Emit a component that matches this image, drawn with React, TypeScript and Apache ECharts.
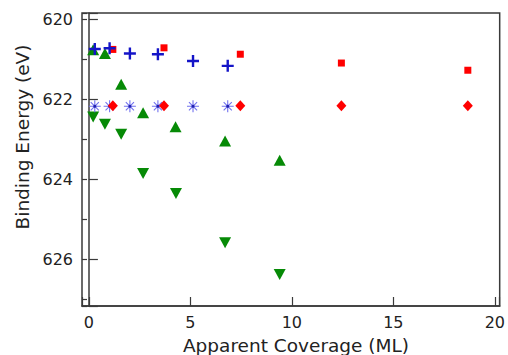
import React, { useEffect, useRef } from "react";
import * as echarts from "echarts";

// Apparent coverage (ML) and binding energy (eV) for each peak family
const plusX = [0.29, 1.02, 2.02, 3.4, 5.13, 6.84];
const plusY = [620.74, 620.72, 620.85, 620.87, 621.04, 621.16];

const starX = [0.29, 1.02, 2.02, 3.4, 5.13, 6.84];
const starY = [622.17, 622.17, 622.17, 622.17, 622.17, 622.17];

const squareX = [1.18, 3.7, 7.46, 12.44, 18.67];
const squareY = [620.75, 620.71, 620.87, 621.09, 621.27];

const diamondX = [1.18, 3.7, 7.46, 12.44, 18.67];
const diamondY = [622.16, 622.16, 622.16, 622.16, 622.16];

const upX = [0.21, 0.79, 1.59, 2.67, 4.27, 6.71, 9.4];
const upY = [620.76, 620.85, 621.62, 622.33, 622.68, 623.04, 623.52];

const downX = [0.21, 0.79, 1.59, 2.67, 4.29, 6.71, 9.4];
const downY = [622.44, 622.62, 622.87, 623.85, 624.35, 625.58, 626.37];

const xTitle = "Apparent Coverage (ML)";
const yTitle = "Binding Energy (eV)";

const pairs = (xs: number[], ys: number[]) => xs.map((x, i) => [x, ys[i]]);

const FONT = "DejaVu Sans";
const AXIS = "#3a3a3a";
const GREEN = "#068a06";
const RED = "#ff0000";
const BLUE = "#1414c8";

const PLUS = "path://M4,0h2v4h4v2h-4v4h-2v-4h-4v-2h4z";
const STAR = "path://M5,0L5,10M0,5L10,5M1.6,1.6L8.4,8.4M8.4,1.6L1.6,8.4";

const isMultiple = (v: number, step: number) => {
  const r = Math.round(v);
  return Math.abs(v - r) < 1e-6 && r % step === 0;
};

export default function App() {
  const ref = useRef<HTMLDivElement>(null);

  useEffect(() => {
    if (!ref.current) return;
    const chart = echarts.init(ref.current, null, { renderer: "svg" });
    const yRange = { min: 619.84, max: 627.16 };

    chart.setOption({
      animation: false,
      backgroundColor: "#fff",
      grid: {
        left: 82,
        top: 13,
        right: 2,
        bottom: 49,
        show: true,
        borderColor: AXIS,
        borderWidth: 1.5,
        backgroundColor: "transparent",
      },
      xAxis: {
        type: "value",
        min: -0.34,
        max: 20.24,
        splitNumber: 4,
        minInterval: 5,
        maxInterval: 5,
        splitLine: { show: false },
        axisLine: { show: true, lineStyle: { color: AXIS, width: 1.5 } },
        axisTick: { show: true, inside: true, length: 9, lineStyle: { color: AXIS, width: 1.2 } },
        axisLabel: {
          margin: 8,
          fontFamily: FONT,
          fontSize: 16,
          color: "#222",
          formatter: (v: number) => (isMultiple(v, 5) ? String(Math.round(v)) : ""),
        },
      },
      yAxis: [
        {
          type: "value",
          position: "left",
          inverse: true,
          ...yRange,
          splitNumber: 4,
          minInterval: 2,
          maxInterval: 2,
          splitLine: { show: false },
          axisLine: { show: true, lineStyle: { color: AXIS, width: 1.5 } },
          axisTick: { show: true, inside: true, length: 9, lineStyle: { color: AXIS, width: 1.2 } },
          axisLabel: {
            margin: 9,
            fontFamily: FONT,
            fontSize: 16,
            color: "#222",
            formatter: (v: number) => (isMultiple(v, 2) ? String(Math.round(v)) : ""),
          },
        },
        {
          type: "value",
          position: "left",
          offset: 0,
          inverse: true,
          ...yRange,
          splitNumber: 7,
          minInterval: 1,
          maxInterval: 1,
          splitLine: { show: false },
          axisLine: { show: false },
          axisTick: { show: true, inside: true, length: 5, lineStyle: { color: AXIS, width: 1.2 } },
          axisLabel: { show: false },
        },
      ],
      graphic: [
        {
          type: "text",
          x: 22,
          y: 137,
          rotation: Math.PI / 2,
          style: {
            text: yTitle,
            font: `18.5px "${FONT}"`,
            fill: "#222",
            align: "center",
            verticalAlign: "middle",
          },
        },
        {
          type: "text",
          x: 296,
          y: 345,
          style: {
            text: xTitle,
            font: `18.5px "${FONT}"`,
            fill: "#222",
            align: "center",
            verticalAlign: "middle",
          },
        },
      ],
      series: [
        {
          type: "scatter",
          data: pairs(upX, upY),
          symbol: "triangle",
          symbolSize: [12, 11],
          itemStyle: { color: GREEN, opacity: 1 },
        },
        {
          type: "scatter",
          data: pairs(downX, downY),
          symbol: "triangle",
          symbolRotate: 180,
          symbolSize: [12, 11],
          itemStyle: { color: GREEN, opacity: 1 },
        },
        {
          type: "scatter",
          data: pairs(starX, starY),
          symbol: STAR,
          symbolSize: 12,
          itemStyle: { color: "none", borderColor: "#7272ee", borderWidth: 1.1, opacity: 1 },
        },
        {
          type: "scatter",
          data: pairs(starX, starY),
          symbol: "circle",
          symbolSize: 3,
          itemStyle: { color: "#2020b0", opacity: 1 },
        },
        {
          type: "scatter",
          data: pairs(squareX, squareY),
          symbol: "rect",
          symbolSize: 7,
          itemStyle: { color: RED, opacity: 1 },
        },
        {
          type: "scatter",
          data: pairs(diamondX, diamondY),
          symbol: "diamond",
          symbolSize: [10, 11],
          itemStyle: { color: RED, opacity: 1 },
        },
        {
          type: "scatter",
          data: pairs(plusX, plusY),
          symbol: PLUS,
          symbolSize: 12,
          itemStyle: { color: BLUE, opacity: 1 },
        },
      ],
    });

    return () => chart.dispose();
  }, []);

  return (
    <div
      ref={ref}
      style={{ position: "fixed", left: 0, top: 0, width: 508, height: 355 }}
    />
  );
}
